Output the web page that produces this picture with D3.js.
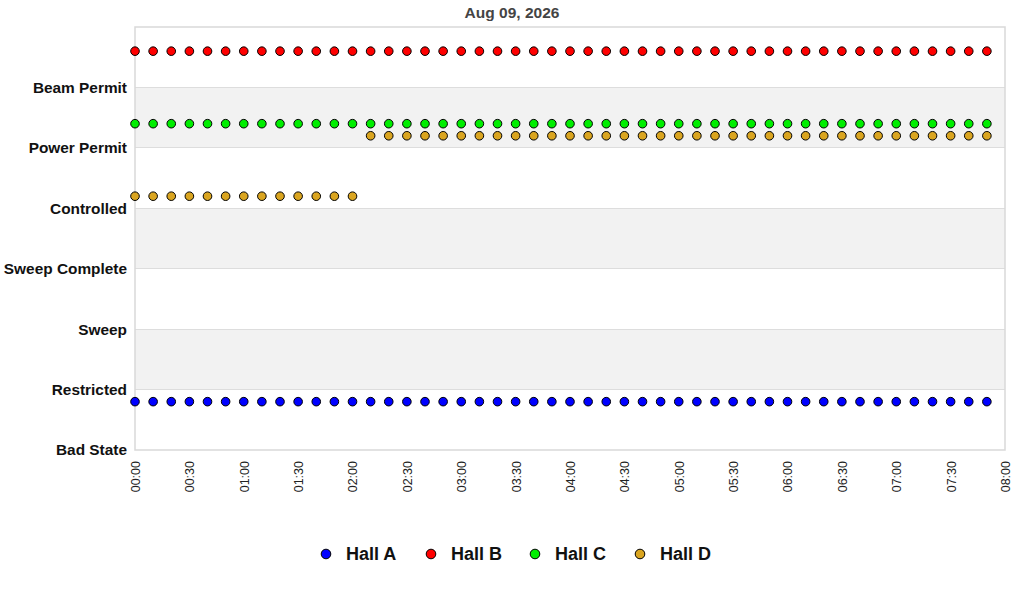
<!DOCTYPE html>
<html>
<head>
<meta charset="utf-8">
<script src="https://cdn.jsdelivr.net/npm/d3@7"></script>
<style>
  body { margin: 0; background: #fff; }
  svg { display: block; font-family: "Liberation Sans", Arial, sans-serif; }
</style>
</head>
<body>
<svg id="chart" width="1024" height="600"></svg>
<script>
// ---- Data ----
const title = "Aug 09, 2026";
const levelLabels = ["Bad State", "Restricted", "Sweep", "Sweep Complete", "Controlled", "Power Permit", "Beam Permit"];
const seriesNames = ["Hall A", "Hall B", "Hall C", "Hall D"];
const seriesColors = ["#0000ff", "#ff0000", "#00ee00", "#daa520"];
const xTickLabels = ["00:00","00:30","01:00","01:30","02:00","02:30","03:00","03:30","04:00","04:30","05:00","05:30","06:00","06:30","07:00","07:30","08:00"];
// sample times, minutes after midnight (every 10 minutes, 00:00..07:50)
const sampleMinutes = [0,10,20,30,40,50,60,70,80,90,100,110,120,130,140,150,160,170,180,190,200,210,220,230,240,250,260,270,280,290,300,310,320,330,340,350,360,370,380,390,400,410,420,430,440,450,460,470];
// plotted values (level + per-hall offset)
const hallA = [0.8,0.8,0.8,0.8,0.8,0.8,0.8,0.8,0.8,0.8,0.8,0.8,0.8,0.8,0.8,0.8,0.8,0.8,0.8,0.8,0.8,0.8,0.8,0.8,0.8,0.8,0.8,0.8,0.8,0.8,0.8,0.8,0.8,0.8,0.8,0.8,0.8,0.8,0.8,0.8,0.8,0.8,0.8,0.8,0.8,0.8,0.8,0.8];
const hallB = [6.6,6.6,6.6,6.6,6.6,6.6,6.6,6.6,6.6,6.6,6.6,6.6,6.6,6.6,6.6,6.6,6.6,6.6,6.6,6.6,6.6,6.6,6.6,6.6,6.6,6.6,6.6,6.6,6.6,6.6,6.6,6.6,6.6,6.6,6.6,6.6,6.6,6.6,6.6,6.6,6.6,6.6,6.6,6.6,6.6,6.6,6.6,6.6];
const hallC = [5.4,5.4,5.4,5.4,5.4,5.4,5.4,5.4,5.4,5.4,5.4,5.4,5.4,5.4,5.4,5.4,5.4,5.4,5.4,5.4,5.4,5.4,5.4,5.4,5.4,5.4,5.4,5.4,5.4,5.4,5.4,5.4,5.4,5.4,5.4,5.4,5.4,5.4,5.4,5.4,5.4,5.4,5.4,5.4,5.4,5.4,5.4,5.4];
const hallD = [4.2,4.2,4.2,4.2,4.2,4.2,4.2,4.2,4.2,4.2,4.2,4.2,4.2,5.2,5.2,5.2,5.2,5.2,5.2,5.2,5.2,5.2,5.2,5.2,5.2,5.2,5.2,5.2,5.2,5.2,5.2,5.2,5.2,5.2,5.2,5.2,5.2,5.2,5.2,5.2,5.2,5.2,5.2,5.2,5.2,5.2,5.2,5.2];
const seriesValues = [hallA, hallB, hallC, hallD];

// ---- Layout ----
const svg = d3.select("#chart");
const plotLeft = 135, plotRight = 1005, plotTop = 27, plotBottom = 450;

const x = d3.scaleLinear().domain([0, 480]).range([plotLeft, plotRight]);
const y = d3.scaleLinear().domain([0, 7]).range([plotBottom, plotTop]);

// alternating bands
const bands = d3.range(0, 7);
svg.append("g").selectAll("rect").data(bands).join("rect")
  .attr("x", plotLeft).attr("width", plotRight - plotLeft)
  .attr("y", d => y(d + 1)).attr("height", d => y(d) - y(d + 1))
  .attr("fill", d => (d % 2 === 1) ? "#f2f2f2" : "#ffffff");

// grid lines
svg.append("g").selectAll("line").data(d3.range(1, 7)).join("line")
  .attr("x1", plotLeft).attr("x2", plotRight)
  .attr("y1", d => y(d)).attr("y2", d => y(d))
  .attr("stroke", "#dddddd").attr("stroke-width", 1).attr("shape-rendering", "crispEdges");

// plot border
svg.append("rect").attr("x", plotLeft).attr("y", plotTop)
  .attr("width", plotRight - plotLeft).attr("height", plotBottom - plotTop)
  .attr("fill", "none").attr("stroke", "#d9d9d9").attr("stroke-width", 1.5);

// y axis labels
const yAxis = d3.axisLeft(y).tickValues(d3.range(0, 7)).tickFormat(d => levelLabels[d]).tickSize(0).tickPadding(8);
const gy = svg.append("g").attr("transform", `translate(${plotLeft},0)`).call(yAxis);
gy.select(".domain").remove();
gy.selectAll("text").attr("font-size", 15.4).attr("font-weight", "bold").attr("fill", "#111")
  .attr("font-family", "Liberation Sans, Arial, sans-serif");

// x axis labels
const xAxis = d3.axisBottom(x).tickValues(d3.range(0, 481, 30)).tickFormat((d, i) => xTickLabels[i]).tickSize(0);
const gx = svg.append("g").attr("transform", `translate(0,${plotBottom})`).call(xAxis);
gx.select(".domain").remove();
gx.selectAll("text")
  .attr("transform", "rotate(-90)")
  .attr("text-anchor", "end")
  .attr("x", -11).attr("y", 0).attr("dy", "0.35em")
  .attr("font-size", 12.5).attr("fill", "#222")
  .attr("font-family", "Liberation Sans, Arial, sans-serif");

// points
seriesValues.forEach((vals, si) => {
  svg.append("g").selectAll("circle").data(vals).join("circle")
    .attr("cx", (d, i) => x(sampleMinutes[i]))
    .attr("cy", d => y(d))
    .attr("r", 4.3)
    .attr("fill", seriesColors[si])
    .attr("stroke", "#000").attr("stroke-width", 1);
});

// title
svg.append("text").attr("x", 512).attr("y", 18).attr("text-anchor", "middle")
  .attr("font-size", 15.5).attr("font-weight", "bold").attr("fill", "#444")
  .text(title);

// legend
const legendX = [326, 431, 535, 640];
const lg = svg.append("g");
seriesNames.forEach((n, i) => {
  lg.append("circle").attr("cx", legendX[i]).attr("cy", 554).attr("r", 4.8)
    .attr("fill", seriesColors[i]).attr("stroke", "#000").attr("stroke-width", 1);
  lg.append("text").attr("x", legendX[i] + 20).attr("y", 554).attr("dy", "0.36em")
    .attr("font-size", 18).attr("font-weight", "bold").attr("fill", "#111").text(n);
});
</script>
</body>
</html>
